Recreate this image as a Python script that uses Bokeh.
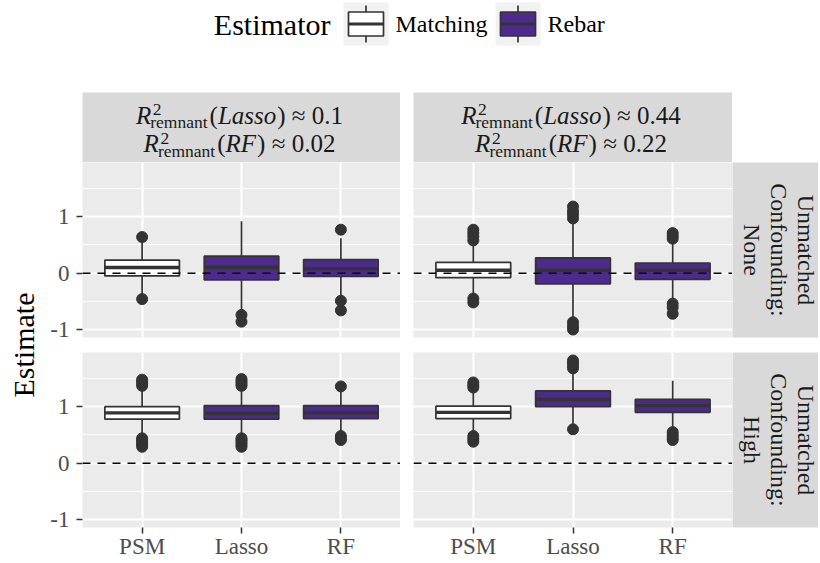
import math
from bokeh.plotting import figure
from bokeh.models import Range1d, FixedTicker, Span, Grid
from bokeh.layouts import row, column
from bokeh.core.properties import value
from bokeh.embed import file_html
from bokeh.resources import INLINE

# ---------------- data ----------------
methods = ["PSM", "Lasso", "RF"]
estimators = ["Matching", "Rebar", "Rebar"]
estimator_levels = ["Matching", "Rebar"]
estimator_fills = ["#FFFFFF", "#4D2B8D"]
confounding_levels = ["None", "High"]
r2_models = ["Lasso", "RF"]
r2_lasso = ["0.1", "0.44"]
r2_rf = ["0.02", "0.22"]
y_ticks = [-1, 0, 1]
y_minor_ticks = [-0.5, 0.5, 1.5]
reference_value = 0

# Unmatched confounding: None ; left column (R2 Lasso ~0.1)
none_low_lower = [-0.37, -0.70, -0.40]
none_low_q1 = [-0.05, -0.12, -0.06]
none_low_median = [0.10, 0.10, 0.08]
none_low_q3 = [0.23, 0.30, 0.24]
none_low_upper = [0.55, 0.92, 0.62]
none_low_outliers = [[0.64, -0.46], [-0.74, -0.86], [0.77, -0.49, -0.66]]

# Unmatched confounding: None ; right column (R2 Lasso ~0.44)
none_high_lower = [-0.37, -0.80, -0.45]
none_high_q1 = [-0.08, -0.19, -0.11]
none_high_median = [0.05, 0.05, 0.05]
none_high_q3 = [0.19, 0.27, 0.18]
none_high_upper = [0.50, 0.88, 0.52]
none_high_outliers = [[0.58, 0.65, 0.71, 0.77, -0.45, -0.52],
                      [0.97, 1.04, 1.10, 1.18, -0.87, -0.94, -1.00],
                      [0.61, 0.66, 0.71, -0.54, -0.61, -0.72]]

# Unmatched confounding: High ; left column
high_low_lower = [0.47, 0.47, 0.52]
high_low_q1 = [0.78, 0.78, 0.79]
high_low_median = [0.89, 0.88, 0.89]
high_low_q3 = [1.00, 1.02, 1.02]
high_low_upper = [1.33, 1.33, 1.30]
high_low_outliers = [[1.37, 1.41, 1.45, 1.48, 0.29, 0.33, 0.37, 0.41, 0.44],
                     [1.37, 1.41, 1.45, 1.49, 0.29, 0.33, 0.37, 0.41, 0.44],
                     [1.36, 0.41, 0.44, 0.48]]

# Unmatched confounding: High ; right column
high_high_lower = [0.52, 0.68, 0.60]
high_high_q1 = [0.79, 1.00, 0.90]
high_high_median = [0.90, 1.13, 1.02]
high_high_q3 = [1.01, 1.28, 1.13]
high_high_upper = [1.30, 1.62, 1.46]
high_high_outliers = [[1.34, 1.38, 1.43, 0.38, 0.43, 0.48],
                      [1.68, 1.73, 1.78, 1.82, 0.60],
                      [0.41, 0.45, 0.50, 0.55]]

panel_stats = [
    [(none_low_lower, none_low_q1, none_low_median, none_low_q3, none_low_upper, none_low_outliers),
     (none_high_lower, none_high_q1, none_high_median, none_high_q3, none_high_upper, none_high_outliers)],
    [(high_low_lower, high_low_q1, high_low_median, high_low_q3, high_low_upper, high_low_outliers),
     (high_high_lower, high_high_q1, high_high_median, high_high_q3, high_high_upper, high_high_outliers)],
]

# ---------------- style ----------------
FONT = "Liberation Serif"
PANEL_BG = "#EBEBEB"
STRIP_BG = "#D9D9D9"
KEY_BG = "#F2F2F2"
DARK = "#333333"
STRIP_TEXT = "#1A1A1A"
TICK_TEXT = "#4D4D4D"

FRAME_W_L, FRAME_W_R, FRAME_H = 318, 319, 175
LEFT_AXIS, GAP_X, GAP_Y, BOTTOM_AXIS = 40, 13, 15, 35
STRIP_H, RSTRIP_W, YLAB_W, LEGEND_H = 70, 86, 42, 92
TOTAL_W = YLAB_W + LEFT_AXIS + FRAME_W_L + GAP_X + FRAME_W_R + RSTRIP_W
GRID_H = STRIP_H + FRAME_H + GAP_Y + FRAME_H + BOTTOM_AXIS
BOX_W = 0.75
MID = 0.3375  # em offset from alphabetic baseline to the middle of the text box

ROMAN = {"r": 333, "e": 444, "m": 778, "n": 500, "a": 444, "t": 278, "(": 333, ")": 333,
         " ": 250, "\u2248": 549, "0": 500, ".": 250, "1": 500, "2": 500, "4": 500}
ITALIC = {"R": 611, "L": 556, "a": 500, "s": 389, "o": 500, "F": 611}


def tw(s, table, size):
    return sum(table.get(c, 500) for c in s) / 1000.0 * size


def hide_grids(p):
    p.center = [c for c in p.center if not isinstance(c, Grid)]


def txt(p, x, y, s, size, style="normal", align="left", angle=0.0, color=STRIP_TEXT):
    p.text(x=[x], y=[y], text=[s], text_font=value(FONT), text_font_size=f"{size}px",
           text_font_style=style, text_align=align, text_baseline="middle",
           angle=angle, text_color=color)


def blank_fig(w, h, fw, fh, bg, left=0, top=0, bottom=0):
    p = figure(width=w, height=h, x_range=Range1d(0, fw), y_range=Range1d(0, fh),
               x_axis_location=None, y_axis_location=None, toolbar_location=None,
               output_backend="svg", title=None,
               min_border_left=left, min_border_right=0, min_border_top=top,
               min_border_bottom=bottom)
    p.background_fill_color = bg
    p.border_fill_color = "white"
    p.outline_line_color = None
    hide_grids(p)
    return p


# ---------------- scales ----------------
xs = [i + 1 for i in range(len(methods))]
all_vals = []
for rstats in panel_stats:
    for st in rstats:
        all_vals += list(st[0]) + list(st[4]) + [v for o in st[5] for v in o]
ymin, ymax = min(all_vals), max(all_vals)
pad = 0.05 * (ymax - ymin)
y_range = Range1d(ymin - pad, ymax + pad)
x_range = Range1d(xs[0] - 0.6, xs[-1] + 0.6)
fills = [estimator_fills[estimator_levels.index(e)] for e in estimators]


def row_bottom(r):
    return GAP_Y if r == 0 else BOTTOM_AXIS


def make_panel(stats, r, c):
    lower, q1, med, q3, upper, outs = stats
    is_left = c == 0
    is_bottom = r == 1
    fw = FRAME_W_L if is_left else FRAME_W_R
    p = figure(width=(LEFT_AXIS if is_left else GAP_X) + fw,
               height=FRAME_H + row_bottom(r),
               x_range=x_range, y_range=y_range, output_backend="svg",
               toolbar_location=None, title=None,
               x_axis_location="below" if is_bottom else None,
               y_axis_location="left" if is_left else None,
               min_border_left=LEFT_AXIS if is_left else GAP_X, min_border_right=0,
               min_border_top=0, min_border_bottom=row_bottom(r))
    p.background_fill_color = PANEL_BG
    p.border_fill_color = "white"
    p.outline_line_color = None
    hide_grids(p)
    p.add_layout(Grid(dimension=0, ticker=FixedTicker(ticks=xs),
                      grid_line_color="white", grid_line_width=2), "center")
    p.add_layout(Grid(dimension=1, ticker=FixedTicker(ticks=y_ticks, minor_ticks=y_minor_ticks),
                      grid_line_color="white", grid_line_width=2,
                      minor_grid_line_color="white", minor_grid_line_width=1), "center")
    axes = []
    if is_left:
        ax = p.yaxis[0]
        ax.ticker = FixedTicker(ticks=y_ticks)
        ax.major_label_overrides = {t: str(t) for t in y_ticks}
        ax.major_label_standoff = 7
        axes.append(ax)
    if is_bottom:
        ax = p.xaxis[0]
        ax.ticker = FixedTicker(ticks=xs)
        ax.major_label_overrides = {x: m for x, m in zip(xs, methods)}
        ax.major_label_standoff = 0
        axes.append(ax)
    for ax in axes:
        ax.axis_line_color = None
        ax.major_tick_line_color = DARK
        ax.major_tick_line_width = 1.5
        ax.major_tick_out = 6
        ax.major_tick_in = 0
        ax.minor_tick_line_color = None
        ax.major_label_text_font = FONT
        ax.major_label_text_font_size = "23px"
        ax.major_label_text_color = TICK_TEXT

    ox = [x for x, o in zip(xs, outs) for _ in o]
    oy = [v for o in outs for v in o]
    p.scatter(ox, oy, size=11, fill_color=DARK, line_color=DARK)
    p.segment(xs, q3, xs, upper, line_color=DARK, line_width=1.7)
    p.segment(xs, q1, xs, lower, line_color=DARK, line_width=1.7)
    p.vbar(x=xs, width=BOX_W, bottom=q1, top=q3, fill_color=fills,
           line_color=DARK, line_width=1.7)
    p.segment([x - BOX_W / 2 for x in xs], med, [x + BOX_W / 2 for x in xs], med,
              line_color=DARK, line_width=3.4)
    p.add_layout(Span(location=reference_value, dimension="width", line_color="black",
                      line_width=1.5, line_dash="8 7"))
    return p


def math_line(p, cx, base_y, model, val, S=25, s=17.5):
    r_w = tw("R", ITALIC, S)
    sub_w = tw("remnant", ROMAN, s)
    sup_w = tw("2", ROMAN, s)
    lp_w = tw("(", ROMAN, S)
    mod_w = tw(model, ITALIC, S)
    rest = ") \u2248 " + val
    rest_w = tw(rest, ROMAN, S)
    total = r_w + max(sub_w, sup_w) + lp_w + mod_w + rest_w + 2
    x = cx - total / 2
    txt(p, x, base_y + MID * S, "R", S, style="italic")
    txt(p, x + r_w + 1.5, base_y + 8 + MID * s, "2", s)
    txt(p, x + r_w - 1, base_y - 4.5 + MID * s, "remnant", s)
    x += r_w + max(sub_w, sup_w) + 1
    txt(p, x, base_y + MID * S, "(", S)
    x += lp_w
    txt(p, x, base_y + MID * S, model, S, style="italic")
    x += mod_w + 1
    txt(p, x, base_y + MID * S, rest, S)


def make_top_strip(c):
    left = LEFT_AXIS if c == 0 else GAP_X
    fw = FRAME_W_L if c == 0 else FRAME_W_R
    p = blank_fig(left + fw, STRIP_H, fw, STRIP_H, STRIP_BG, left=left)
    math_line(p, fw / 2 - 2, 38.7, r2_models[0], r2_lasso[c])
    math_line(p, fw / 2 - 2, 10.5, r2_models[1], r2_rf[c])
    return p


def make_right_strip(r):
    p = blank_fig(RSTRIP_W, FRAME_H + row_bottom(r), RSTRIP_W, FRAME_H, STRIP_BG,
                  bottom=row_bottom(r))
    lines = ["Unmatched", "Confounding:", confounding_levels[r]]
    for i, ln in enumerate(lines):
        txt(p, 46 + 27 * (1 - i), FRAME_H / 2, ln, 24, align="center", angle=-math.pi / 2)
    return p


# ---------------- legend ----------------
lg = blank_fig(TOTAL_W, LEGEND_H, TOTAL_W, LEGEND_H, "white")
cy = LEGEND_H - 23.5
key_w, key_h, box_w, box_h = 45, 43, 35, 24
key_left = [343, 495]
label_left = [395, 547]
txt(lg, 330, cy, "Estimator", 30, align="right", color="black")
lg.quad(left=key_left, right=[k + key_w for k in key_left], bottom=cy - key_h / 2,
        top=cy + key_h / 2, fill_color=KEY_BG, line_color=None)
kc = [k + key_w / 2 for k in key_left]
lg.segment(kc, cy + box_h / 2, kc, cy + key_h / 2 - 3, line_color=DARK, line_width=1.7)
lg.segment(kc, cy - box_h / 2, kc, cy - key_h / 2 + 3, line_color=DARK, line_width=1.7)
lg.quad(left=[k - box_w / 2 for k in kc], right=[k + box_w / 2 for k in kc],
        bottom=cy - box_h / 2, top=cy + box_h / 2, fill_color=estimator_fills,
        line_color=DARK, line_width=1.7)
lg.segment([k - box_w / 2 for k in kc], cy, [k + box_w / 2 for k in kc], cy,
           line_color=DARK, line_width=3)
for lx, lab in zip(label_left, estimator_levels):
    txt(lg, lx, cy, lab, 24, color="black")

# ---------------- y title ----------------
ylab = blank_fig(YLAB_W, GRID_H, YLAB_W, GRID_H, "white")
y_center_from_top = STRIP_H + (FRAME_H * 2 + GAP_Y) / 2
txt(ylab, 23, GRID_H - y_center_from_top, "Estimate", 30, align="center",
    angle=math.pi / 2, color="black")

panels = [[make_panel(panel_stats[r][c], r, c) for c in range(2)] for r in range(2)]
grid = column(
    row(make_top_strip(0), make_top_strip(1)),
    row(panels[0][0], panels[0][1], make_right_strip(0)),
    row(panels[1][0], panels[1][1], make_right_strip(1)),
)
layout = column(lg, row(ylab, grid))

open("out.html", "w").write(file_html(layout, INLINE))
